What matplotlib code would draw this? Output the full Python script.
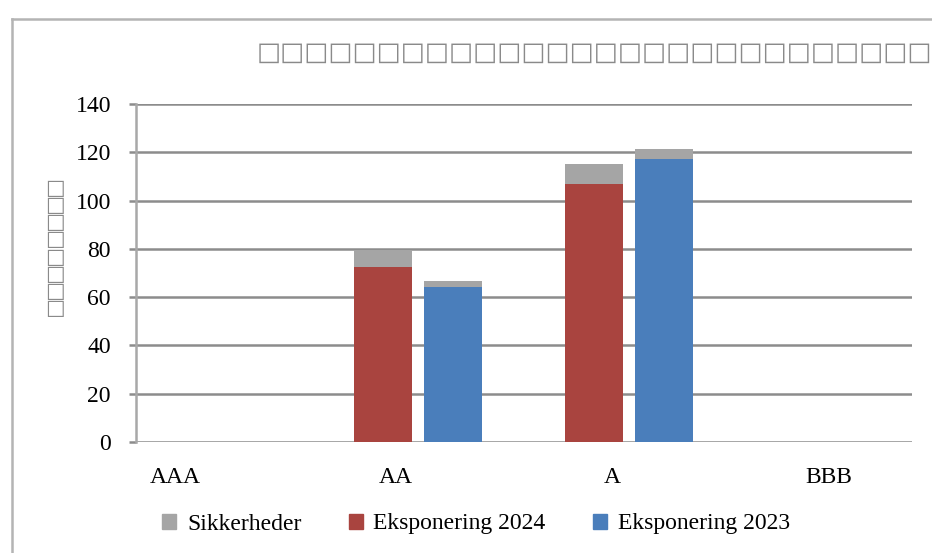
import numpy as np
import matplotlib
matplotlib.use("Agg")
import matplotlib.pyplot as plt
from matplotlib.lines import Line2D
from matplotlib.patches import Patch

# ── Data ──────────────────────────────────────────────────────────────────────
categories   = ["AAA", "AA", "A", "BBB"]
expo_2024    = [0, 72.5, 106.7, 0]
expo_2023    = [0, 64.1, 117.1, 0]
sikker_2024  = [0, 7.0, 8.6, 0]
sikker_2023  = [0, 2.6, 4.1, 0]
title_text   = "□" * 28
ylabel_text  = "□" * 8

# ── Style ─────────────────────────────────────────────────────────────────────
C_GRAY = "#A5A5A5"
C_RED  = "#A9443F"
C_BLUE = "#4A7EBB"
GRID   = "#8C8C8C"
FONT   = "Liberation Serif"
BOXF   = "DejaVu Sans"
W, H   = 932, 553

plt.rcParams["font.family"] = [FONT, "DejaVu Sans"]

fig = plt.figure(figsize=(W / 100, H / 100), dpi=100)
fig.patch.set_facecolor("white")

# outer chart frame (cut off at right and bottom)
fig.add_artist(Line2D([12 / W, 12 / W], [0, 1 - 19 / H], color="#B4B4B4",
                      linewidth=1.8, transform=fig.transFigure))
fig.add_artist(Line2D([12 / W, 1], [1 - 19 / H, 1 - 19 / H], color="#B4B4B4",
                      linewidth=1.8, transform=fig.transFigure))

ax = fig.add_axes([136 / W, (H - 442) / H, (912 - 136) / W, (442 - 104) / H])

x = np.arange(len(categories))
bw = 0.275
off = 0.166

ax.bar(x - off, expo_2024, bw, color=C_RED, zorder=3)
ax.bar(x - off, sikker_2024, bw, bottom=expo_2024, color=C_GRAY, zorder=3)
ax.bar(x + off, expo_2023, bw, color=C_BLUE, zorder=3)
ax.bar(x + off, sikker_2023, bw, bottom=expo_2023, color=C_GRAY, zorder=3)

ax.set_xlim(-0.336, 3.341)
ax.set_ylim(0, 140)
ax.set_yticks(np.arange(0, 141, 20))
ax.yaxis.grid(True, color=GRID, linewidth=1.8, zorder=0)
ax.set_axisbelow(True)

for s in ["top", "right", "bottom"]:
    ax.spines[s].set_visible(False)
ax.spines["left"].set_color("#A8A8A8")
ax.spines["left"].set_linewidth(1.8)

ax.tick_params(axis="y", length=5, width=1.8, color=GRID, pad=13,
               labelsize=17)
for lbl in ax.get_yticklabels():
    lbl.set_fontfamily(FONT)

# category labels sit a bit left of the bar groups in the original
label_shift = np.array([-0.152, -0.104, -0.08, -0.052])
ax.set_xticks(x + label_shift)
ax.set_xticklabels(categories, fontsize=17, fontfamily=FONT)
ax.tick_params(axis="x", length=0, pad=18)

# title and y label (glyphs missing in the original render)
fig.text(257 / W, 1 - 53 / H, title_text, ha="left", va="center",
         fontsize=18.4, color="#8A8A8A", fontfamily=BOXF)
fig.text(55 / W, 1 - 248 / H, "\n".join(ylabel_text), ha="center",
         va="center", fontsize=15, color="#8A8A8A", fontfamily=BOXF,
         linespacing=0.83)

handles = [Patch(color=C_GRAY, label="Sikkerheder"),
           Patch(color=C_RED, label="Eksponering 2024"),
           Patch(color=C_BLUE, label="Eksponering 2023")]
fig.legend(handles=handles, loc="center", ncol=3, frameon=False,
           bbox_to_anchor=(476 / W, 1 - 524 / H),
           handlelength=0.6, handleheight=0.6, handletextpad=0.45,
           columnspacing=2.0, prop={"family": FONT, "size": 17})

plt.savefig("out.png", dpi=100, facecolor="white")
plt.close()
